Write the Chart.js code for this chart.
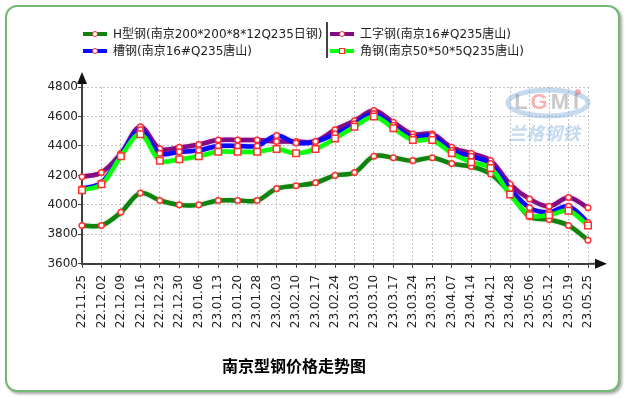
<!DOCTYPE html>
<html><head><meta charset="utf-8">
<script src="https://cdn.jsdelivr.net/npm/chart.js@4.4.1/dist/chart.umd.min.js"></script>
<style>
html,body{margin:0;padding:0;background:#fff;}
#wrap{position:relative;width:628px;height:398px;overflow:hidden;background:#fff;}
#frame{position:absolute;left:5px;top:5px;width:611px;height:383px;border:2px solid #74b874;border-radius:12px;box-shadow:2px 2px 3px rgba(0,0,0,0.35);background:#fff;}
#c{position:absolute;left:0;top:0;}
.lg{position:absolute;font:12px "DejaVu Sans","Noto Sans CJK SC",sans-serif;color:#222;white-space:nowrap;height:14px;line-height:14px;}
.sw{position:absolute;left:0;top:5px;width:24px;height:4px;}
.mk{position:absolute;left:9px;top:-1px;width:4px;height:4px;border:1px solid #ff2a2a;background:#fff;border-radius:50%;}
.mk.sq{border-radius:0;}
.tx{position:absolute;left:30px;top:0;}
#sep{position:absolute;left:326px;top:22px;width:2px;height:36px;background:#444;}
</style></head>
<body><div id="wrap"><div id="frame"></div><canvas id="c" width="628" height="398"></canvas><div id="sep"></div></div>
<script>
const categories = ['22.11.25','22.12.02','22.12.09','22.12.16','22.12.23','22.12.30','23.01.06','23.01.13','23.01.20','23.01.28','23.02.03','23.02.10','23.02.17','23.02.24','23.03.03','23.03.10','23.03.17','23.03.24','23.03.31','23.04.07','23.04.14','23.04.21','23.04.28','23.05.06','23.05.12','23.05.19','23.05.25'];
const hBeam   = [3860,3860,3950,4080,4030,4000,4000,4030,4030,4030,4110,4130,4150,4200,4220,4330,4320,4300,4320,4280,4260,4210,4080,3920,3900,3860,3760];
const iBeam   = [4190,4220,4350,4530,4380,4390,4410,4440,4440,4440,4430,4430,4430,4510,4570,4640,4560,4480,4480,4390,4350,4300,4140,4040,3990,4050,3980];
const channel = [4110,4150,4340,4510,4350,4360,4370,4400,4400,4400,4470,4420,4430,4480,4550,4620,4540,4460,4470,4370,4330,4280,4110,3980,3950,3990,3880];
const angle   = [4100,4140,4330,4480,4300,4310,4330,4360,4360,4360,4380,4350,4380,4450,4530,4600,4520,4440,4440,4350,4290,4250,4070,3930,3930,3960,3860];
const yTicks  = [3600,3800,4000,4200,4400,4600,4800];
const seriesNames = ['H型钢(南京200*200*8*12Q235日钢)','工字钢(南京16#Q235唐山)','槽钢(南京16#Q235唐山)','角钢(南京50*50*5Q235唐山)'];
const seriesColors = ['#0e840e','#850a85','#0a0aff','#0aff0a'];
const seriesData = [hBeam, iBeam, channel, angle];
const seriesMarkers = ['circle','circle','circle','rect'];
const chartTitle = '南京型钢价格走势图';

const wrap = document.getElementById('wrap');
const legPos = [[83,27],[330,27],[83,44],[330,44]];
[0,1,2,3].forEach((si,k)=>{
  const d=document.createElement('div'); d.className='lg';
  d.style.left=legPos[k][0]+'px'; d.style.top=legPos[k][1]+'px';
  const sw=document.createElement('div'); sw.className='sw'; sw.style.background=seriesColors[si];
  const mk=document.createElement('div'); mk.className='mk'+(seriesMarkers[si]==='rect'?' sq':'');
  sw.appendChild(mk); d.appendChild(sw);
  const t=document.createElement('span'); t.className='tx'; t.textContent=seriesNames[si]; d.appendChild(t);
  wrap.appendChild(d);
});

const FONT = '"DejaVu Sans","Noto Sans CJK SC",sans-serif';

const glow = {
  id:'glow',
  beforeDatasetsDraw(chart){
    const c=chart.ctx;
    const metas=chart.getSortedVisibleDatasetMetas();
    for(let i=metas.length-1;i>=0;i--){
      const m=metas[i];
      c.save();
      c.globalAlpha=0.25;
      c.shadowColor=m.dataset.options.borderColor; c.shadowBlur=3;
      m.dataset.draw(c, chart.chartArea);
      c.restore();
    }
  }
};

const deco = {
  id:'deco',
  beforeDatasetsDraw(chart){
    const c=chart.ctx, a=chart.chartArea;
    const cx=a.right-40, cy=a.top+16;
    c.save();
    c.globalAlpha=0.4;
    c.strokeStyle='#6f9fd8'; c.lineWidth=5;
    c.beginPath(); c.ellipse(cx,cy,40,13,0,0,Math.PI*2); c.stroke();
    c.font='bold 22px "Liberation Sans",sans-serif'; c.textAlign='center'; c.textBaseline='middle';
    c.fillStyle='#777'; c.fillText('L',cx-27,cy); c.fillStyle='#e84040'; c.fillText('G',cx-9,cy);
    c.fillStyle='#777'; c.fillText('M',cx+12,cy); c.fillText('I',cx+28,cy);
    c.fillStyle='#e84040'; c.beginPath(); c.arc(cx+30,cy-11,3,0,Math.PI*2); c.fill();
    c.fillStyle='#6f9fd8'; c.font='italic bold 18px "Noto Sans CJK SC",sans-serif';
    c.fillText('兰格钢铁',cx-4,cy+30);
    c.restore();
  },
  afterDraw(chart){
    const c=chart.ctx, a=chart.chartArea;
    c.save(); c.fillStyle='#111'; c.strokeStyle='#404040'; c.lineWidth=2;
    c.beginPath(); c.moveTo(a.right,a.bottom); c.lineTo(a.right+8,a.bottom); c.stroke();
    c.beginPath(); c.moveTo(a.right+7,a.bottom-5); c.lineTo(a.right+19,a.bottom); c.lineTo(a.right+7,a.bottom+5); c.closePath(); c.fill();
    c.beginPath(); c.moveTo(a.left,a.top); c.lineTo(a.left,a.top-5); c.stroke();
    c.beginPath(); c.moveTo(a.left-5,a.top-3); c.lineTo(a.left,a.top-15); c.lineTo(a.left+5,a.top-3); c.closePath(); c.fill();
    c.restore();
  }
};

const datasets = seriesData.map((d,i)=>({
  label: seriesNames[i], data: d,
  borderColor: seriesColors[i], borderWidth: 4.5,
  backgroundColor:'#ffffff',
  pointStyle: seriesMarkers[i],
  pointRadius: seriesMarkers[i]==='rect'?4.6:2.8,
  pointBorderColor:'#ff3030', pointBackgroundColor:'#ffffff', pointBorderWidth:1.5,
  tension:0.35, fill:false, order: 4-i
}));

const gridOpt = {color:'#c4c4c4', lineWidth:1, tickColor:'#404040', tickLength:4, tickWidth:1};
new Chart(document.getElementById('c'),{
  type:'line',
  data:{labels:categories, datasets},
  options:{
    responsive:false, animation:false, devicePixelRatio:1,
    layout:{padding:{left:0,right:40,top:87,bottom:21}},
    plugins:{
      legend:{display:false}, tooltip:{enabled:false},
      title:{display:true,text:chartTitle,position:'bottom',color:'#000',padding:0,font:{family:FONT,size:16,weight:'bold'}}
    },
    scales:{
      x:{offset:false, grid:gridOpt, border:{color:'#404040',width:2,dash:[2,2]},
         ticks:{autoSkip:false,minRotation:90,maxRotation:90,padding:7,color:'#222',font:{family:FONT,size:12}},
         afterFit(s){s.height=94;}},
      y:{min:3600,max:4800, grid:gridOpt, border:{color:'#404040',width:2,dash:[2,2]},
         ticks:{padding:0,color:'#222',font:{family:FONT,size:12},callback:(v)=>String(v)},
         afterBuildTicks(s){s.ticks=yTicks.map(v=>({value:v}));},
         afterFit(s){s.width=82;}}
    }
  },
  plugins:[deco,glow]
});
</script></body></html>
